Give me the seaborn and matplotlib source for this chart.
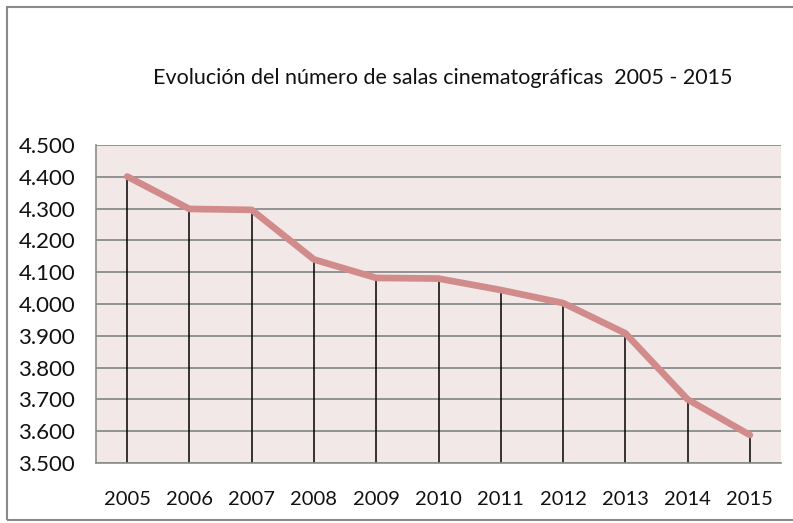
import numpy as np
import pandas as pd
import seaborn as sns
import matplotlib.pyplot as plt
from matplotlib.ticker import FuncFormatter, FixedLocator
from matplotlib.patches import Rectangle

sns.set_style("white")
plt.rcParams['font.family'] = ['Lato', 'DejaVu Sans']

# datos
anios = [2005, 2006, 2007, 2008, 2009, 2010, 2011, 2012, 2013, 2014, 2015]
salas = [4401, 4299, 4296, 4140, 4082, 4080, 4044, 4003, 3908, 3700, 3588]
titulo = "Evolución del número de salas cinematográficas  2005 - 2015"

df = pd.DataFrame({'anio': anios, 'salas': salas})

fig = plt.figure(figsize=(7.93, 5.23), dpi=100)
ax = fig.add_axes([96 / 793, 1 - 463 / 523, (781 - 96) / 793, (463 - 145) / 523])
ax.set_facecolor('#F2E8E8')

# drop lines
ax.vlines(df['anio'], 3500, df['salas'], color='black', lw=1.1, zorder=2)
sns.lineplot(data=df, x='anio', y='salas', ax=ax, color='#D18B8B', lw=4.8,
             solid_capstyle='round', zorder=3)

ax.set_ylim(3500, 4500)
ax.set_xlim(2004.5, 2015.5)
ax.set_yticks(np.arange(3500, 4501, 100))
ax.yaxis.set_major_formatter(FuncFormatter(lambda v, p: f"{int(v):,}".replace(',', '.')))
ax.set_xticks(anios)
ax.xaxis.set_minor_locator(FixedLocator(np.arange(2004.5, 2016, 1)))
ax.grid(axis='y', color='#8C8C8C', lw=1.3, zorder=1)
ax.grid(axis='x', visible=False)
ax.set_axisbelow(True)

for s in ['top', 'right']:
    ax.spines[s].set_visible(False)
for s in ['left', 'bottom']:
    ax.spines[s].set_color('#8C8C8C')
    ax.spines[s].set_linewidth(1.2)

ax.tick_params(axis='y', length=7, color='#8C8C8C', width=1.2, labelsize=16, pad=8,
               labelcolor='#111111')
ax.tick_params(axis='x', which='major', length=0, labelsize=14.5, pad=20, labelcolor='#111111')
ax.tick_params(axis='x', which='minor', length=7, color='#8C8C8C', width=1.2)
ax.set_xlabel('')
ax.set_ylabel('')

fig.text(443 / 793, 1 - 78 / 523, titulo, ha='center', va='center', fontsize=15.5,
         color='#111111')

# outer chart border
fig.patches.append(Rectangle((7 / 793, 3 / 523), 1.0, 1 - 10 / 523, transform=fig.transFigure,
                             fill=False, edgecolor='#8A8A8A', lw=1.5))

fig.savefig('out.png', dpi=100)
